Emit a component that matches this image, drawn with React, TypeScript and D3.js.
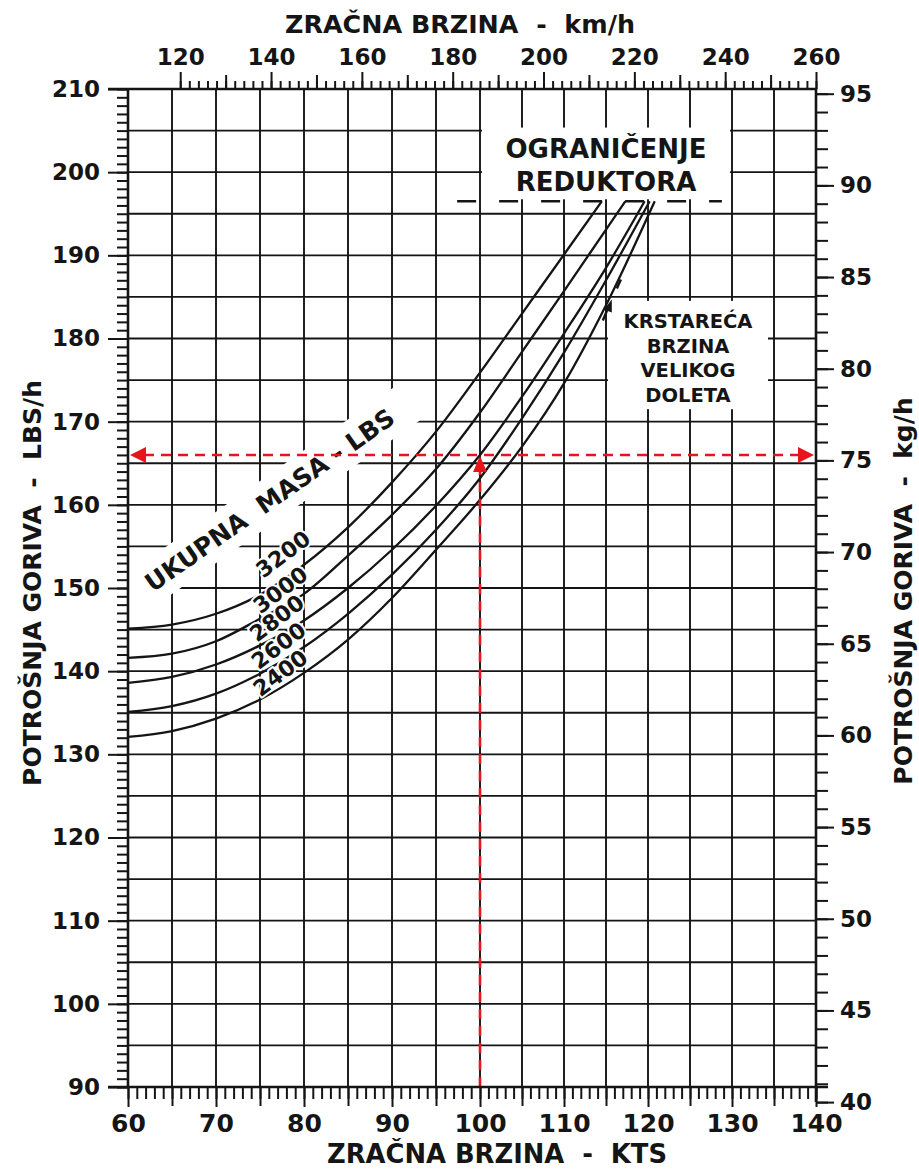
import * as d3 from 'd3'
import { useEffect, useRef } from 'react'

// Brzina (KTS) u točkama očitanja krivulja
const speedKts = [60, 65, 70, 75, 80, 85, 90, 95, 100, 105, 110, 115]
// Ukupna masa (LBS)
const masses = [3200, 3000, 2800, 2600, 2400]
// Potrošnja goriva (LBS/h) za svaku masu, očitano s dijagrama
const fuel3200 = [145.1, 145.6, 146.9, 149.2, 152.8, 157.3, 162.7, 168.8, 175.9, 183.0, 190.1]
const fuel3000 = [141.6, 142.1, 143.6, 146.3, 149.3, 153.9, 158.8, 164.3, 171.1, 178.4, 185.7, 193.1]
const fuel2800 = [138.6, 139.3, 140.8, 143.1, 146.1, 150.0, 154.6, 159.9, 166.0, 173.0, 180.6, 188.5]
const fuel2600 = [135.1, 135.8, 137.3, 139.7, 142.9, 146.9, 151.6, 157.0, 163.2, 170.4, 178.3, 187.0]
const fuel2400 = [132.1, 132.8, 134.3, 136.6, 139.8, 143.8, 148.8, 154.6, 160.6, 167.0, 174.6, 184.0]
// brzina na kojoj krivulja dolazi do ograničenja reduktora
const limitKts = [114.5, 117.3, 119.6, 120.2, 120.8]
const gearLimitLbs = 196.5
const gearLimitSpan = [97.4, 128.8]

// oznake osi
const ktsTicks = d3.range(60, 141, 10)
const lbsTicks = d3.range(90, 211, 10)
const kmhTicks = d3.range(120, 261, 20)
const kgTicks = d3.range(40, 96, 5)

// primjer očitanja (crvene strelice)
const exampleKts = 100
const exampleLbs = 166

const LB_TO_KG = 0.4536
const W = 919
const H = 1169
const FONT = '"DejaVu Sans", sans-serif'
const ink = '#151515'
const red = '#e8141c'

const App = () => {
	const svgRef = useRef<SVGSVGElement>(null)

	useEffect(() => {
		const svg = d3.select(svgRef.current)
		svg.selectAll('*').remove()

		// skenirani dijagram nije posve jednolik, zato tri točke
		const x = d3.scaleLinear().domain([60, 100, 140]).range([128, 480, 816])
		const y = d3.scaleLinear().domain([90, 210]).range([1087, 89])
		const xKmh = d3.scaleLinear().domain([108.5, 260]).range([128, 816])
		const yKg = d3.scaleLinear().domain([90 * LB_TO_KG, 210 * LB_TO_KG]).range([1087, 89])

		// mreža
		const grid = svg.append('g').attr('stroke', ink).attr('stroke-width', 1.9)
		grid.selectAll('.v').data(d3.range(60, 141, 5)).join('line').attr('class', 'v')
			.attr('x1', (d) => x(d)).attr('x2', (d) => x(d)).attr('y1', y(210)).attr('y2', y(90))
		grid.selectAll('.h').data(d3.range(90, 211, 5)).join('line').attr('class', 'h')
			.attr('y1', (d) => y(d)).attr('y2', (d) => y(d)).attr('x1', x(60)).attr('x2', x(140))

		// bijela polja ispod natpisa
		const white = svg.append('g').attr('fill', '#fff')
		white.append('rect')
			.attr('x', x(100) + 2).attr('y', y(205) - 3)
			.attr('width', x(130) - x(100) - 4).attr('height', y(gearLimitLbs) - y(205) + 1)
		white.append('rect')
			.attr('x', x(115) + 2).attr('y', y(185) + 4)
			.attr('width', x(135) - x(115) - 8).attr('height', y(171.5) - y(185) - 4)
		const ux = x(76.1)
		const uy = y(160.6)
		white.append('rect')
			.attr('x', -172).attr('y', -21).attr('width', 344).attr('height', 42)
			.attr('transform', `translate(${ux},${uy}) rotate(-35)`)

		// krivulje
		const fuel = [fuel3200, fuel3000, fuel2800, fuel2600, fuel2400]
		const series = masses.map((m, i) => ({
			mass: m,
			pts: [...fuel[i].map((v, j) => [speedKts[j], v]), [limitKts[i], gearLimitLbs]],
		}))
		const line = d3.line<number[]>()
			.curve(d3.curveMonotoneX)
			.x((d) => x(d[0]))
			.y((d) => y(d[1]))
		svg.append('g').selectAll('path').data(series).join('path')
			.attr('d', (d) => line(d.pts))
			.attr('fill', 'none').attr('stroke', ink).attr('stroke-width', 2.3)

		// ograničenje reduktora
		svg.append('line')
			.attr('x1', x(gearLimitSpan[0])).attr('x2', x(gearLimitSpan[1]))
			.attr('y1', y(gearLimitLbs)).attr('y2', y(gearLimitLbs))
			.attr('stroke', ink).attr('stroke-width', 2.5).attr('stroke-dasharray', '19 23')

		const bold = (sel) => sel.attr('font-family', FONT).attr('font-weight', 'bold').attr('fill', ink)

		const boxCx = (x(100) + x(130)) / 2
		bold(svg.append('text')).attr('x', boxCx).attr('y', 158).attr('text-anchor', 'middle')
			.attr('font-size', 26).text('OGRANIČENJE')
		bold(svg.append('text')).attr('x', boxCx).attr('y', 191).attr('text-anchor', 'middle')
			.attr('font-size', 26).text('REDUKTORA')

		const cruise = ['KRSTAREĆA', 'BRZINA', 'VELIKOG', 'DOLETA']
		bold(svg.append('g').selectAll('text').data(cruise).join('text'))
			.attr('x', 688).attr('y', (d, i) => 328 + i * 24.7)
			.attr('text-anchor', 'middle').attr('font-size', 19.5).text((d) => d)

		// strelica prema krivuljama
		const ax = x(115.1)
		const ay = y(183.6)
		svg.append('line').attr('x1', ax - 4).attr('y1', ay + 12).attr('x2', ax + 1).attr('y2', ay)
			.attr('stroke', ink).attr('stroke-width', 2.5)
		svg.append('polygon')
			.attr('points', `${ax + 5},${ay - 9} ${ax - 3},${ay + 1} ${ax + 5},${ay + 4}`)
			.attr('fill', ink)
		svg.append('line').attr('x1', ax + 10).attr('y1', ay - 20).attr('x2', ax + 14).attr('y2', ay - 29)
			.attr('stroke', ink).attr('stroke-width', 2.5)

		bold(svg.append('text'))
			.attr('transform', `translate(${ux},${uy}) rotate(-35)`)
			.attr('text-anchor', 'middle').attr('dy', '0.36em').attr('font-size', 25)
			.attr('xml:space', 'preserve').style('white-space', 'pre')
			.text('UKUPNA  MASA - LBS')

		// oznake masa
		const labelKts = [77.6, 77.3, 76.9, 77.1, 77.3]
		const labelLbs = [154.1, 149.8, 146.4, 143.1, 139.8]
		bold(svg.append('g').selectAll('text').data(masses).join('text'))
			.attr('transform', (d, i) => `translate(${x(labelKts[i])},${y(labelLbs[i])}) rotate(-37)`)
			.attr('text-anchor', 'middle').attr('dy', '0.36em').attr('font-size', 22)
			.attr('paint-order', 'stroke').attr('stroke', '#fff').attr('stroke-width', 4)
			.attr('stroke-linejoin', 'round')
			.text((d) => d)

		// crvene strelice
		const ry = y(exampleLbs)
		const rx = x(exampleKts)
		const reds = svg.append('g')
		reds.append('line').attr('x1', x(60) + 16).attr('x2', x(140) - 16).attr('y1', ry).attr('y2', ry)
			.attr('stroke', red).attr('stroke-width', 2.6).attr('stroke-dasharray', '10 7')
		reds.append('line').attr('x1', rx).attr('x2', rx).attr('y1', y(90)).attr('y2', ry + 16)
			.attr('stroke', red).attr('stroke-width', 2.6).attr('stroke-dasharray', '10 7')
		reds.append('polygon').attr('fill', red)
			.attr('points', `${x(60) + 2},${ry} ${x(60) + 18},${ry - 8} ${x(60) + 18},${ry + 8}`)
		reds.append('polygon').attr('fill', red)
			.attr('points', `${x(140) - 2},${ry} ${x(140) - 18},${ry - 8} ${x(140) - 18},${ry + 8}`)
		reds.append('polygon').attr('fill', red)
			.attr('points', `${rx},${ry + 1} ${rx - 7},${ry + 17} ${rx + 7},${ry + 17}`)

		// osi
		const axisStyle = (size) => (g) => {
			g.select('.domain').remove()
			g.selectAll('line').attr('stroke', ink).attr('stroke-width', 2)
			g.selectAll('text').attr('font-family', FONT).attr('font-weight', 'bold')
				.attr('font-size', size).attr('fill', ink)
		}
		const blank = () => ''

		// lijevo LBS/h
		svg.append('g').attr('transform', `translate(${x(60)},0)`)
			.call(d3.axisLeft(y).tickValues(d3.range(90, 211, 1)).tickSize(11).tickFormat(blank)).call(axisStyle(23))
		svg.append('g').attr('transform', `translate(${x(60)},0)`)
			.call(d3.axisLeft(y).tickValues(lbsTicks).tickSize(20).tickPadding(8)).call(axisStyle(23))

		// dolje KTS
		svg.append('g').attr('transform', `translate(0,${y(90)})`)
			.call(d3.axisBottom(x).tickValues(d3.range(60, 141, 1)).tickSize(12).tickFormat(blank)).call(axisStyle(23))
		svg.append('g').attr('transform', `translate(0,${y(90)})`)
			.call(d3.axisBottom(x).tickValues(d3.range(65, 141, 10)).tickSize(19).tickFormat(blank)).call(axisStyle(23))
		svg.append('g').attr('transform', `translate(0,${y(90)})`)
			.call(d3.axisBottom(x).tickValues(ktsTicks).tickSize(20).tickPadding(7)).call(axisStyle(25))

		// gore km/h
		svg.append('g').attr('transform', `translate(0,${y(210)})`)
			.call(d3.axisTop(xKmh).tickValues(d3.range(120, 261, 2)).tickSize(8).tickFormat(blank)).call(axisStyle(23))
		svg.append('g').attr('transform', `translate(0,${y(210)})`)
			.call(d3.axisTop(xKmh).tickValues(d3.range(130, 251, 20)).tickSize(14).tickFormat(blank)).call(axisStyle(23))
		svg.append('g').attr('transform', `translate(0,${y(210)})`)
			.call(d3.axisTop(xKmh).tickValues(kmhTicks).tickSize(17).tickPadding(7)).call(axisStyle(23))

		// desno kg/h
		svg.append('g').attr('transform', `translate(${x(140)},0)`)
			.call(d3.axisRight(yKg).tickValues(d3.range(40, 96, 1)).tickSize(12).tickFormat(blank)).call(axisStyle(23))
		svg.append('g').attr('transform', `translate(${x(140)},0)`)
			.call(d3.axisRight(yKg).tickValues(kgTicks).tickSize(18).tickPadding(6)).call(axisStyle(23))

		// okvir
		const frame = svg.append('g').attr('stroke', ink).attr('stroke-width', 2.6)
		frame.append('line').attr('x1', x(60) - 20).attr('x2', x(140)).attr('y1', y(210)).attr('y2', y(210))
		frame.append('line').attr('x1', x(60) - 20).attr('x2', x(140) + 12).attr('y1', y(90)).attr('y2', y(90))
		frame.append('line').attr('x1', x(60)).attr('x2', x(60)).attr('y1', y(210)).attr('y2', y(90))
		frame.append('line').attr('x1', x(140)).attr('x2', x(140)).attr('y1', y(210)).attr('y2', yKg(40))

		// naslovi osi
		bold(svg.append('text')).attr('x', 285).attr('y', 33).attr('font-size', 25)
			.attr('textLength', 350).attr('lengthAdjust', 'spacingAndGlyphs')
			.style('white-space', 'pre').text('ZRAČNA BRZINA  -  km/h')
		bold(svg.append('text')).attr('x', 327).attr('y', 1163).attr('font-size', 27)
			.attr('textLength', 340).attr('lengthAdjust', 'spacingAndGlyphs')
			.style('white-space', 'pre').text('ZRAČNA BRZINA  -  KTS')
		bold(svg.append('text')).attr('transform', 'translate(41,583) rotate(-90)')
			.attr('text-anchor', 'middle').attr('font-size', 25)
			.style('white-space', 'pre').text('POTROŠNJA GORIVA  -  LBS/h')
		bold(svg.append('text')).attr('transform', 'translate(912,591) rotate(-90)')
			.attr('text-anchor', 'middle').attr('font-size', 25)
			.style('white-space', 'pre').text('POTROŠNJA GORIVA  -  kg/h')
	}, [])

	return (
		<svg
			ref={svgRef}
			width={W}
			height={H}
			viewBox={`0 0 ${W} ${H}`}
			style={{ position: 'absolute', left: 0, top: 0, background: '#fff' }}
		></svg>
	)
}

export default App
